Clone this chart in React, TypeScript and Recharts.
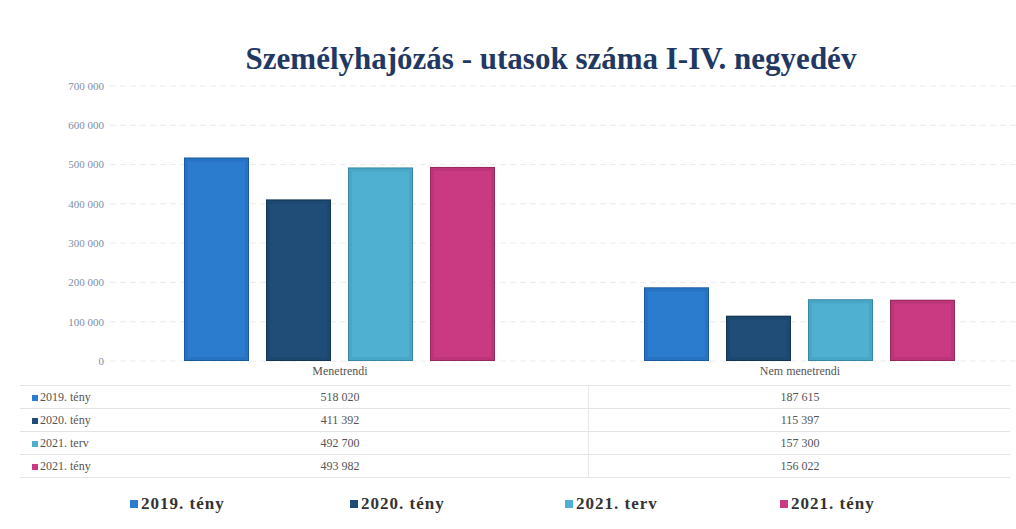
import React from "react";
import { Bar, BarChart, CartesianGrid, Legend, XAxis, YAxis } from "recharts";

const categories = ["Menetrendi", "Nem menetrendi"];
const series = ["2019. tény", "2020. tény", "2021. terv", "2021. tény"];
const values2019 = [518020, 187615];
const values2020 = [411392, 115397];
const plan2021 = [492700, 157300];
const values2021 = [493982, 156022];
const yTicks = [0, 100000, 200000, 300000, 400000, 500000, 600000, 700000];

const colors = ["#2b7bcf", "#1f4d78", "#4fb0d2", "#c93a82"];
const edges = ["#1c5a9e", "#143553", "#3688a6", "#952a5f"];
const keys = ["y2019", "y2020", "p2021", "y2021"];

const data = categories.map((name, i) => ({
  name,
  y2019: values2019[i],
  y2020: values2020[i],
  p2021: plan2021[i],
  y2021: values2021[i],
}));

const fmt = (v: number) => String(v).replace(/\B(?=(\d{3})+(?!\d))/g, " ");

const FONT = '"Liberation Serif", "DejaVu Serif", serif';
const rowOffsets = [26, 49, 72, 95];

function BevelBar(props: any) {
  const { x, y, width, height, index, edge, fill } = props;
  if (!height || height <= 0) return null;
  const b = 4;
  return (
    <g key={index}>
      <rect x={x} y={y} width={width} height={height} fill={edge} />
      <rect x={x + 1} y={y + 1} width={width - 2} height={height - 2} fill={fill} opacity={0.75} />
      <rect x={x + b} y={y + b} width={width - 2 * b} height={height - 2 * b} fill={fill} />
    </g>
  );
}

function TableTick(props: any) {
  const { x, y, payload } = props;
  const i = categories.indexOf(payload.value);
  const cols = [values2019, values2020, plan2021, values2021];
  return (
    <g fontFamily={FONT} fontSize={12} fill="#555" textAnchor="middle">
      <text x={x} y={y + 6} fill="#555">{payload.value}</text>
      {cols.map((c, r) => (
        <text key={r} x={x} y={y + rowOffsets[r] + 6} fill="#555">
          {fmt(c[i])}
        </text>
      ))}
    </g>
  );
}

function LegendContent() {
  const lefts = [130, 350, 565, 780];
  return (
    <div style={{ position: "relative", height: 20, fontFamily: FONT }}>
      {series.map((s, i) => (
        <div
          key={s}
          style={{
            position: "absolute",
            left: lefts[i],
            top: 0,
            fontSize: 17,
            letterSpacing: 1,
            fontWeight: "bold",
            color: "#333",
            display: "flex",
            alignItems: "center",
            gap: 3,
          }}
        >
          <span style={{ width: 8, height: 8, background: colors[i], display: "inline-block" }} />
          {s}
        </div>
      ))}
    </div>
  );
}

export default function App() {
  const rowLines = [385, 408, 431, 454, 477];
  return (
    <div style={{ position: "absolute", left: 0, top: 0, width: 1016, height: 529, overflow: "hidden", background: "#fff" }}>
      <div
        style={{
          position: "absolute",
          top: 41,
          left: 0,
          width: 1102,
          textAlign: "center",
          fontFamily: FONT,
          fontWeight: "bold",
          fontSize: 31,
          color: "#1f3864",
        }}
      >
        Személyhajózás - utasok száma I-IV. negyedév
      </div>
      {rowLines.map((y) => (
        <div key={y} style={{ position: "absolute", left: 20, top: y, width: 990, height: 1, background: "#e4e4e4" }} />
      ))}
      <div style={{ position: "absolute", left: 588, top: 385, width: 1, height: 92, background: "#e8e8e8" }} />
      {series.map((s, r) => (
        <div
          key={s}
          style={{
            position: "absolute",
            left: 32,
            top: 390 + r * 23,
            fontFamily: FONT,
            fontSize: 12,
            color: "#555",
            display: "flex",
            alignItems: "center",
            gap: 2,
          }}
        >
          <span style={{ width: 6, height: 6, background: colors[r], display: "inline-block" }} />
          {s}
        </div>
      ))}
      <div style={{ position: "absolute", left: 0, top: 0 }}>
        <BarChart
          width={1040}
          height={529}
          data={data}
          margin={{ top: 86, right: 10, bottom: 28, left: 0 }}
          barCategoryGap={74}
          barGap={17}
        >
          <CartesianGrid vertical={false} stroke="#ececec" strokeDasharray="6 4" />
          <XAxis
            dataKey="name"
            axisLine={false}
            tickLine={false}
            height={120}
            tick={<TableTick />}
            interval={0}
          />
          <YAxis
            width={110}
            domain={[0, 700000]}
            ticks={yTicks}
            axisLine={false}
            tickLine={false}
            tickMargin={0}
            tickFormatter={(v) => fmt(v)}
            tick={{ fill: "#7e8ea6", fontSize: 11, fontFamily: FONT }}
          />
          <Legend
            verticalAlign="bottom"
            content={<LegendContent />}
            wrapperStyle={{ left: 0, top: 494, width: 1016 }}
          />
          {keys.map((k, i) => (
            <Bar
              key={k}
              dataKey={k}
              name={series[i]}
              fill={colors[i]}
              isAnimationActive={false}
              shape={(p: any) => <BevelBar {...p} edge={edges[i]} fill={colors[i]} />}
            />
          ))}
        </BarChart>
      </div>
    </div>
  );
}
